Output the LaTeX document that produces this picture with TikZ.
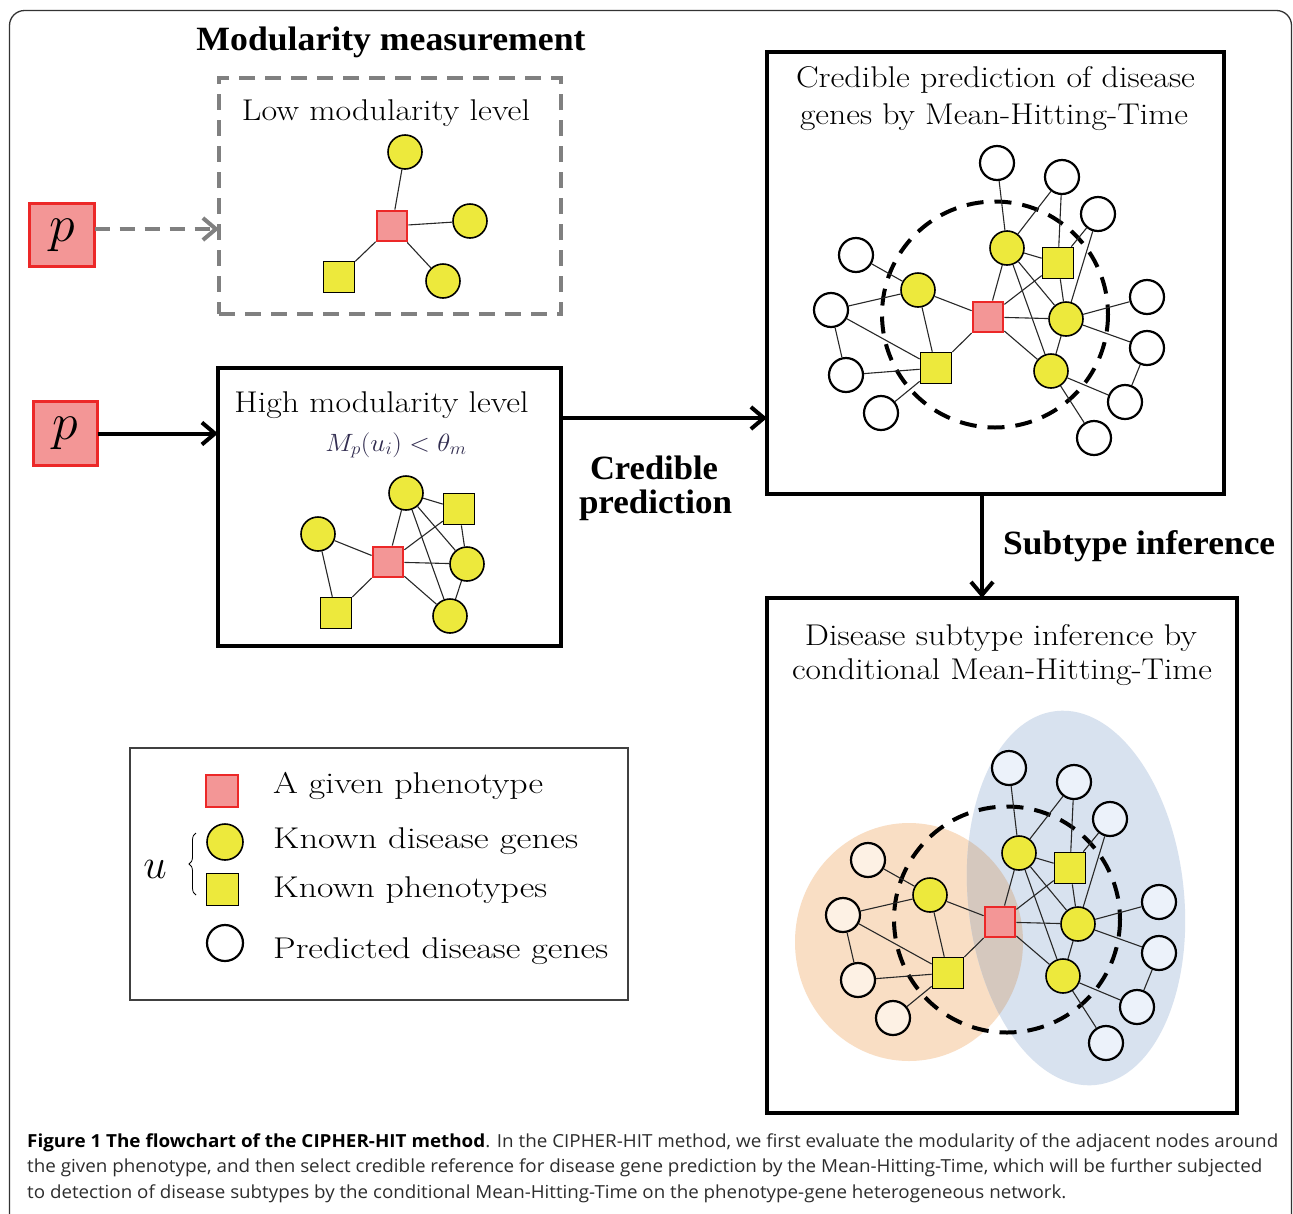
\RequirePackage{fix-cm}
\documentclass[tikz,border=0pt]{standalone}
\usepackage{fontspec}
\usepackage{graphicx}
\usetikzlibrary{arrows.meta,decorations.pathreplacing}
\newfontfamily\timesf{Liberation Serif}
\newfontfamily\capf{Open Sans}
\definecolor{ylw}{RGB}{237,233,60}
\definecolor{pinkf}{RGB}{243,150,150}
\definecolor{redb}{RGB}{236,40,40}
\definecolor{grayd}{RGB}{128,128,128}
\definecolor{orng}{RGB}{249,222,196}
\definecolor{blu}{RGB}{216,226,239}
\definecolor{ovl}{RGB}{213,200,190}
\definecolor{crm}{RGB}{253,241,228}
\definecolor{blw}{RGB}{236,242,250}
\definecolor{fml}{RGB}{50,45,80}
\definecolor{capc}{RGB}{45,45,45}
\definecolor{edgec}{RGB}{40,40,40}
\newcommand\fw[2]{\resizebox{#1pt}{\height}{#2}}
\tikzset{
  ycirc/.style={circle, draw=black, line width=1.6pt, fill=ylw, minimum size=34pt, inner sep=0pt},
  ysq/.style={rectangle, draw=black, line width=1.6pt, fill=ylw, minimum size=31pt, inner sep=0pt},
  rsq/.style={rectangle, draw=redb, line width=2.8pt, fill=pinkf, minimum size=30pt, inner sep=0pt},
  ocirc/.style={circle, draw=black, line width=2.2pt, fill=white, minimum size=34pt, inner sep=0pt},
  edge/.style={line width=1.1pt, draw=edgec},
  dcirc/.style={line width=4pt, draw=black, dash pattern=on 17pt off 11pt},
  txt/.style={inner sep=0pt, anchor=base},
  pbox/.style={rectangle, draw=redb, line width=2.2pt, fill=pinkf, inner sep=0pt, outer sep=0pt},
  boxx/.style={rectangle, draw=black, line width=4pt, inner sep=0pt, outer sep=0pt},
  arr/.style={line width=4pt, -{Straight Barb[length=13pt,width=22pt]}},
}
\newcommand\netw[5]{%
\begin{scope}[shift={(#2,#3)}]
\draw[dcirc] (995,314.5) circle (113);
\node[ocirc,fill=#5] (#1W1) at (997,163) {};
\node[ocirc,fill=#5] (#1W2) at (1062,177) {};
\node[ocirc,fill=#5] (#1W3) at (1098,214) {};
\node[ocirc,fill=#4] (#1W4) at (856,255) {};
\node[ocirc,fill=#4] (#1W5) at (831,310) {};
\node[ocirc,fill=#4] (#1W6) at (846,375) {};
\node[ocirc,fill=#4] (#1W7) at (881,413) {};
\node[ocirc,fill=#5] (#1W8) at (1147,297) {};
\node[ocirc,fill=#5] (#1W9) at (1147,348) {};
\node[ocirc,fill=#5] (#1W10) at (1125,402) {};
\node[ocirc,fill=#5] (#1W11) at (1094,438) {};
\node[ycirc] (#1Y1) at (1007,248) {};
\node[ysq] (#1S1) at (1058,263) {};
\node[ycirc] (#1Y2) at (918,290) {};
\node[rsq] (#1R) at (988,317) {};
\node[ycirc] (#1Y3) at (1066,319) {};
\node[ysq] (#1S2) at (936,368) {};
\node[ycirc] (#1Y4) at (1051,371) {};
\foreach \a/\b in {W1/Y1,W2/Y1,W2/S1,W3/S1,W3/Y3,W4/Y2,W5/Y2,W5/S2,W5/W6,W6/S2,W7/S2,Y2/S2,Y2/R,R/S2,R/Y1,R/S1,R/Y3,R/Y4,Y1/S1,Y1/Y3,Y1/Y4,S1/Y3,Y3/Y4,Y3/W8,Y3/W9,Y4/W10,Y4/W11,W9/W10}
  \draw[edge] (#1\a) -- (#1\b);
\end{scope}}
\begin{document}
\begin{tikzpicture}[x=1pt,y=-1pt]
\useasboundingbox (0,0) rectangle (1293,1213);
\fill[white] (0,0) rectangle (1293,1213);
% outer frame
\draw[line width=1.3pt, draw=black!80, rounded corners=15pt] (9.5,1216) -- (9.5,10.5) -- (1291.5,10.5) -- (1291.5,1216);

% title
\node[txt] at (391,50) {\timesf\bfseries\fontsize{34}{40}\selectfont\fw{389}{Modularity measurement}};

% low modularity box
\node[rectangle, draw=grayd, line width=4pt, dash pattern=on 16pt off 10pt, minimum width=342pt, minimum height=236pt, inner sep=0pt, outer sep=0pt] (low) at (390,196) {};
\node[txt] at (386,120) {\fontsize{30}{36}\selectfont\fw{288}{Low modularity level}};
\node[ycirc] (Lt) at (405,152) {};
\node[rsq] (Lr) at (392,226) {};
\node[ycirc] (Lc) at (470,221) {};
\node[ysq] (Lq) at (339,277) {};
\node[ycirc] (Lb) at (443,281) {};
\foreach \a/\b in {Lt/Lr,Lr/Lc,Lr/Lq,Lr/Lb} \draw[edge] (\a) -- (\b);

% p boxes
\node[pbox, minimum width=65pt, minimum height=63pt] (p1) at (62,235) {\fontsize{52}{52}\selectfont$p$};
\node[pbox, minimum width=64pt, minimum height=64pt] (p2) at (65.5,433.5) {\fontsize{52}{52}\selectfont$p$};
\coordinate (pa) at ([yshift=6pt]p1.east);
\draw[arr, draw=grayd, dash pattern=on 15pt off 10pt] (pa) -- (pa -| low.west);

% high modularity box
\node[boxx, minimum width=343pt, minimum height=278pt] (high) at (389.5,507) {};
\draw[arr] (p2.east) -- (p2.east -| high.west);
\node[txt] at (381.5,412) {\fontsize{30}{36}\selectfont\fw{294}{High modularity level}};
\node[txt] at (396,451) {\color{fml}\fontsize{25}{30}\selectfont\fw{141}{$M_p(u_i) < \theta_m$}};
\node[ycirc] (Ht) at (406,493) {};
\node[ysq] (Hs) at (459,509) {};
\node[ycirc] (Hl) at (318,534) {};
\node[rsq] (Hr) at (388,562) {};
\node[ycirc] (Hc) at (467,564) {};
\node[ysq] (Hq) at (336,613) {};
\node[ycirc] (Hb) at (450,616) {};
\foreach \a/\b in {Ht/Hr,Ht/Hs,Ht/Hc,Ht/Hb,Hs/Hr,Hs/Hc,Hl/Hr,Hl/Hq,Hr/Hc,Hr/Hb,Hr/Hq,Hc/Hb} \draw[edge] (\a) -- (\b);

% credible box
\node[boxx, minimum width=457pt, minimum height=442pt] (cred) at (995.5,273) {};
\node[txt] at (995.5,87) {\fontsize{30}{36}\selectfont\fw{399}{Credible prediction of disease}};
\node[txt] at (994,124) {\fontsize{30}{36}\selectfont\fw{388}{genes by Mean-Hitting-Time}};
\netw{C}{0}{0}{white}{white}

\coordinate (a1) at (561,418);
\draw[arr] (a1) -- (a1 -| cred.west);
\node[txt] at (654,479) {\timesf\bfseries\fontsize{34}{40}\selectfont\fw{128}{Credible}};
\node[txt] at (655.5,513) {\timesf\bfseries\fontsize{34}{40}\selectfont\fw{153}{prediction}};

% subtype box
\node[boxx, minimum width=470pt, minimum height=515pt] (sub) at (1002,855.5) {};
\coordinate (a2) at (982,495);
\draw[arr] (a2) -- (a2 |- sub.north);
\node[txt, anchor=base west] at (1003,554) {\timesf\bfseries\fontsize{34}{40}\selectfont\fw{272}{Subtype inference}};
\node[txt] at (1001,645) {\fontsize{30}{36}\selectfont\fw{392}{Disease subtype inference by}};
\node[txt] at (1002,679) {\fontsize{30}{36}\selectfont\fw{420}{conditional Mean-Hitting-Time}};
\fill[orng] (909,942) ellipse [x radius=114, y radius=119];
\fill[blu, rotate around={6:(1076,898)}] (1076,898) ellipse [x radius=108, y radius=188];
\begin{scope}
\clip (909,942) ellipse [x radius=114, y radius=119];
\fill[ovl, rotate around={6:(1076,898)}] (1076,898) ellipse [x radius=108, y radius=188];
\end{scope}
\netw{D}{12}{605}{crm}{blw}

% legend
\node[rectangle, draw=black!75, line width=1.2pt, minimum width=498pt, minimum height=252pt, inner sep=0pt] (leg) at (379,874) {};
\node[rsq, minimum size=32pt] (k1) at (222,791) {};
\node[ycirc, minimum size=36pt] (k2) at (225,842) {};
\node[ysq, minimum size=32pt] (k3) at (222.5,889.5) {};
\node[ocirc, minimum size=36pt] (k4) at (225,943) {};
\node[txt, anchor=base west] at (273,793) {\fontsize{30}{36}\selectfont\fw{270}{A given phenotype}};
\node[txt, anchor=base west] at (273,848) {\fontsize{30}{36}\selectfont\fw{305}{Known disease genes}};
\node[txt, anchor=base west] at (273,897) {\fontsize{30}{36}\selectfont\fw{274}{Known phenotypes}};
\node[txt, anchor=base west] at (273,958) {\fontsize{30}{36}\selectfont\fw{335}{Predicted disease genes}};
\node[txt] at (155,878) {\fontsize{42}{42}\selectfont$u$};
\draw[decorate, decoration={brace, amplitude=7pt}, line width=0.8pt] (196,895) -- (196,833);

% caption
\node[txt, anchor=base west] at (27,1147) {\capf\fontsize{18}{22}\selectfont\color{capc}\fw{1251}{{\bfseries\color{black}Figure 1 The flowchart of the CIPHER-HIT method}. In the CIPHER-HIT method, we first evaluate the modularity of the adjacent nodes around}};
\node[txt, anchor=base west] at (27,1172) {\capf\fontsize{18}{22}\selectfont\color{capc}\fw{1235}{the given phenotype, and then select credible reference for disease gene prediction by the Mean-Hitting-Time, which will be further subjected}};
\node[txt, anchor=base west] at (27,1198) {\capf\fontsize{18}{22}\selectfont\color{capc}\fw{1039}{to detection of disease subtypes by the conditional Mean-Hitting-Time on the phenotype-gene heterogeneous network.}};
\end{tikzpicture}
\end{document}
